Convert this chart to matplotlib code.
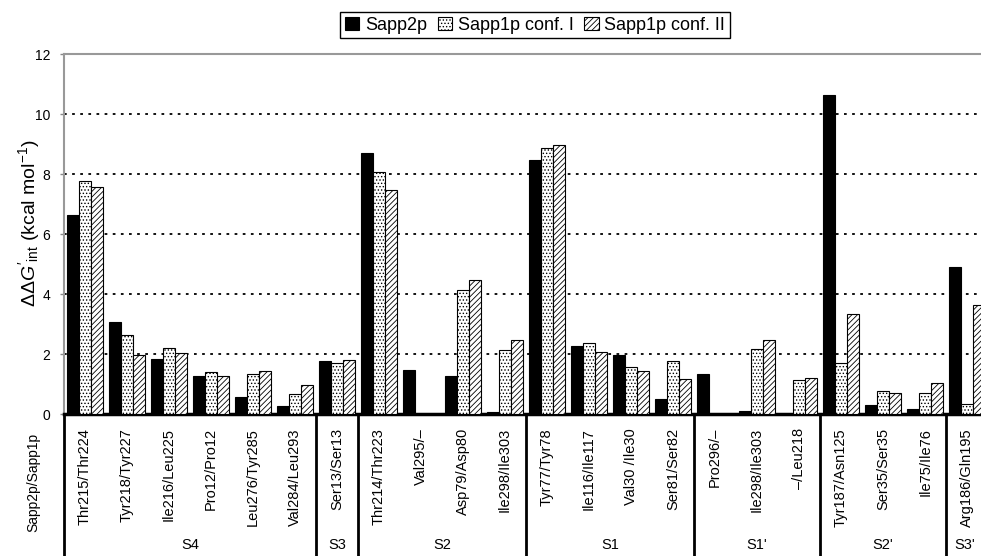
import matplotlib
matplotlib.use('Agg')
import matplotlib.pyplot as plt
import matplotlib.transforms as mtransforms
import numpy as np

plt.rcParams['font.family'] = ['Liberation Sans', 'DejaVu Sans']
plt.rcParams['mathtext.fontset'] = 'custom'
plt.rcParams['mathtext.rm'] = 'Liberation Sans'
plt.rcParams['mathtext.it'] = 'Liberation Sans:italic'
plt.rcParams['hatch.linewidth'] = 0.6

residues = ['Thr215/Thr224', 'Tyr218/Tyr227', 'Ile216/Leu225', 'Pro12/Pro12',
            'Leu276/Tyr285', 'Val284/Leu293', 'Ser13/Ser13', 'Thr214/Thr223',
            'Val295/\u2013', 'Asp79/Asp80', 'Ile298/Ile303', 'Tyr77/Tyr78',
            'Ile116/Ile117', 'Val30 /Ile30', 'Ser81/Ser82', 'Pro296/\u2013',
            'Ile298/Ile303', '\u2013/Leu218', 'Tyr187/Asn125', 'Ser35/Ser35',
            'Ile75/Ile76', 'Arg186/Gln195']
sapp2p = [6.62, 3.06, 1.82, 1.28, 0.56, 0.26, 1.78, 8.69, 1.47, 1.26, 0.07,
          8.47, 2.28, 1.98, 0.49, 1.33, 0.10, 0.0, 10.63, 0.29, 0.16, 4.90]
conf1 = [7.78, 2.62, 2.20, 1.41, 1.33, 0.68, 1.69, 8.06, 0.0, 4.14, 2.15,
         8.87, 2.38, 1.57, 1.78, 0.0, 2.16, 1.14, 1.71, 0.78, 0.70, 0.33]
conf2 = [7.57, 1.96, 2.03, 1.28, 1.42, 0.97, 1.80, 7.48, 0.0, 4.47, 2.46,
         8.97, 2.08, 1.43, 1.18, 0.0, 2.48, 1.21, 3.32, 0.69, 1.04, 3.64]
sites = ['S4', 'S3', 'S2', 'S1', "S1'", "S2'", "S3'"]
site_sizes = [6, 1, 4, 4, 3, 3, 1]
series_names = ['Sapp2p', 'Sapp1p conf. I', 'Sapp1p conf. II']

W, H = 981, 556
fig = plt.figure(figsize=(W / 100, H / 100), dpi=100)
ax = fig.add_axes([64 / W, (H - 414) / H, (W - 64) / W, 360 / H])

x = np.arange(len(residues))
w = 12 / 42
b1 = ax.bar(x - w, sapp2p, w, color='black', edgecolor='black', lw=0.8, zorder=3,
            label=series_names[0])
b2 = ax.bar(x, conf1, w, color='white', edgecolor='black', lw=0.8, hatch='.....',
            zorder=3, label=series_names[1])
b3 = ax.bar(x + w, conf2, w, color='white', edgecolor='black', lw=0.8, hatch='//////',
            zorder=3, label=series_names[2])

ax.set_xlim(-0.5, 21.33)
ax.set_ylim(0, 12)
ax.set_yticks(range(0, 13, 2))
for yv in range(2, 12, 2):
    ax.axhline(yv, color='black', lw=1.3, dashes=(1.5, 3), zorder=1)
ax.set_xticks([])
ax.tick_params(axis='y', length=3, width=1, color='#888888', pad=7, labelsize=10)

ax.spines['right'].set_visible(False)
ax.spines['top'].set_color('#999999')
ax.spines['top'].set_linewidth(1.5)
ax.spines['left'].set_color('#999999')
ax.spines['left'].set_linewidth(1.5)
ax.spines['bottom'].set_color('black')
ax.spines['bottom'].set_linewidth(2.5)

ax.set_ylabel(r"$\Delta\Delta G'_{\rm int}$ (kcal mol$^{-1}$)", fontsize=14)
ax.yaxis.set_label_coords(-0.024, 0.53)

# table below the axis
trans = mtransforms.blended_transform_factory(ax.transData, ax.transAxes)
for i, lab in enumerate(residues):
    ax.text(i, -0.039, lab, rotation=90, ha='center', va='top', fontsize=10.5,
            transform=trans, clip_on=False)
edges = np.concatenate([[0], np.cumsum(site_sizes)]) - 0.5
for e in edges:
    ax.plot([e, e], [0, -0.5], color='black', lw=2, transform=trans, clip_on=False)
for k, s in enumerate(sites):
    mid = (edges[k] + edges[k + 1]) / 2
    if k == len(sites) - 1:
        mid = edges[k] + 0.45
    ax.text(mid, -0.364, s, ha='center', va='center', fontsize=10.5,
            transform=trans, clip_on=False)
fig.text(33 / W, 1 - 482 / H, 'Sapp2p/Sapp1p', rotation=90, ha='center', va='center',
         fontsize=10)

leg = fig.legend(handles=[b1, b2, b3], loc='upper center', ncol=3,
                 bbox_to_anchor=(535 / W, 1 - 12 / H), fontsize=13, frameon=True,
                 fancybox=False, edgecolor='black', framealpha=1,
                 handlelength=0.8, handleheight=0.8, handletextpad=0.3,
                 columnspacing=0.6, borderpad=0.25, borderaxespad=0)
leg.get_frame().set_linewidth(1.0)

fig.savefig('out.png', dpi=100)
